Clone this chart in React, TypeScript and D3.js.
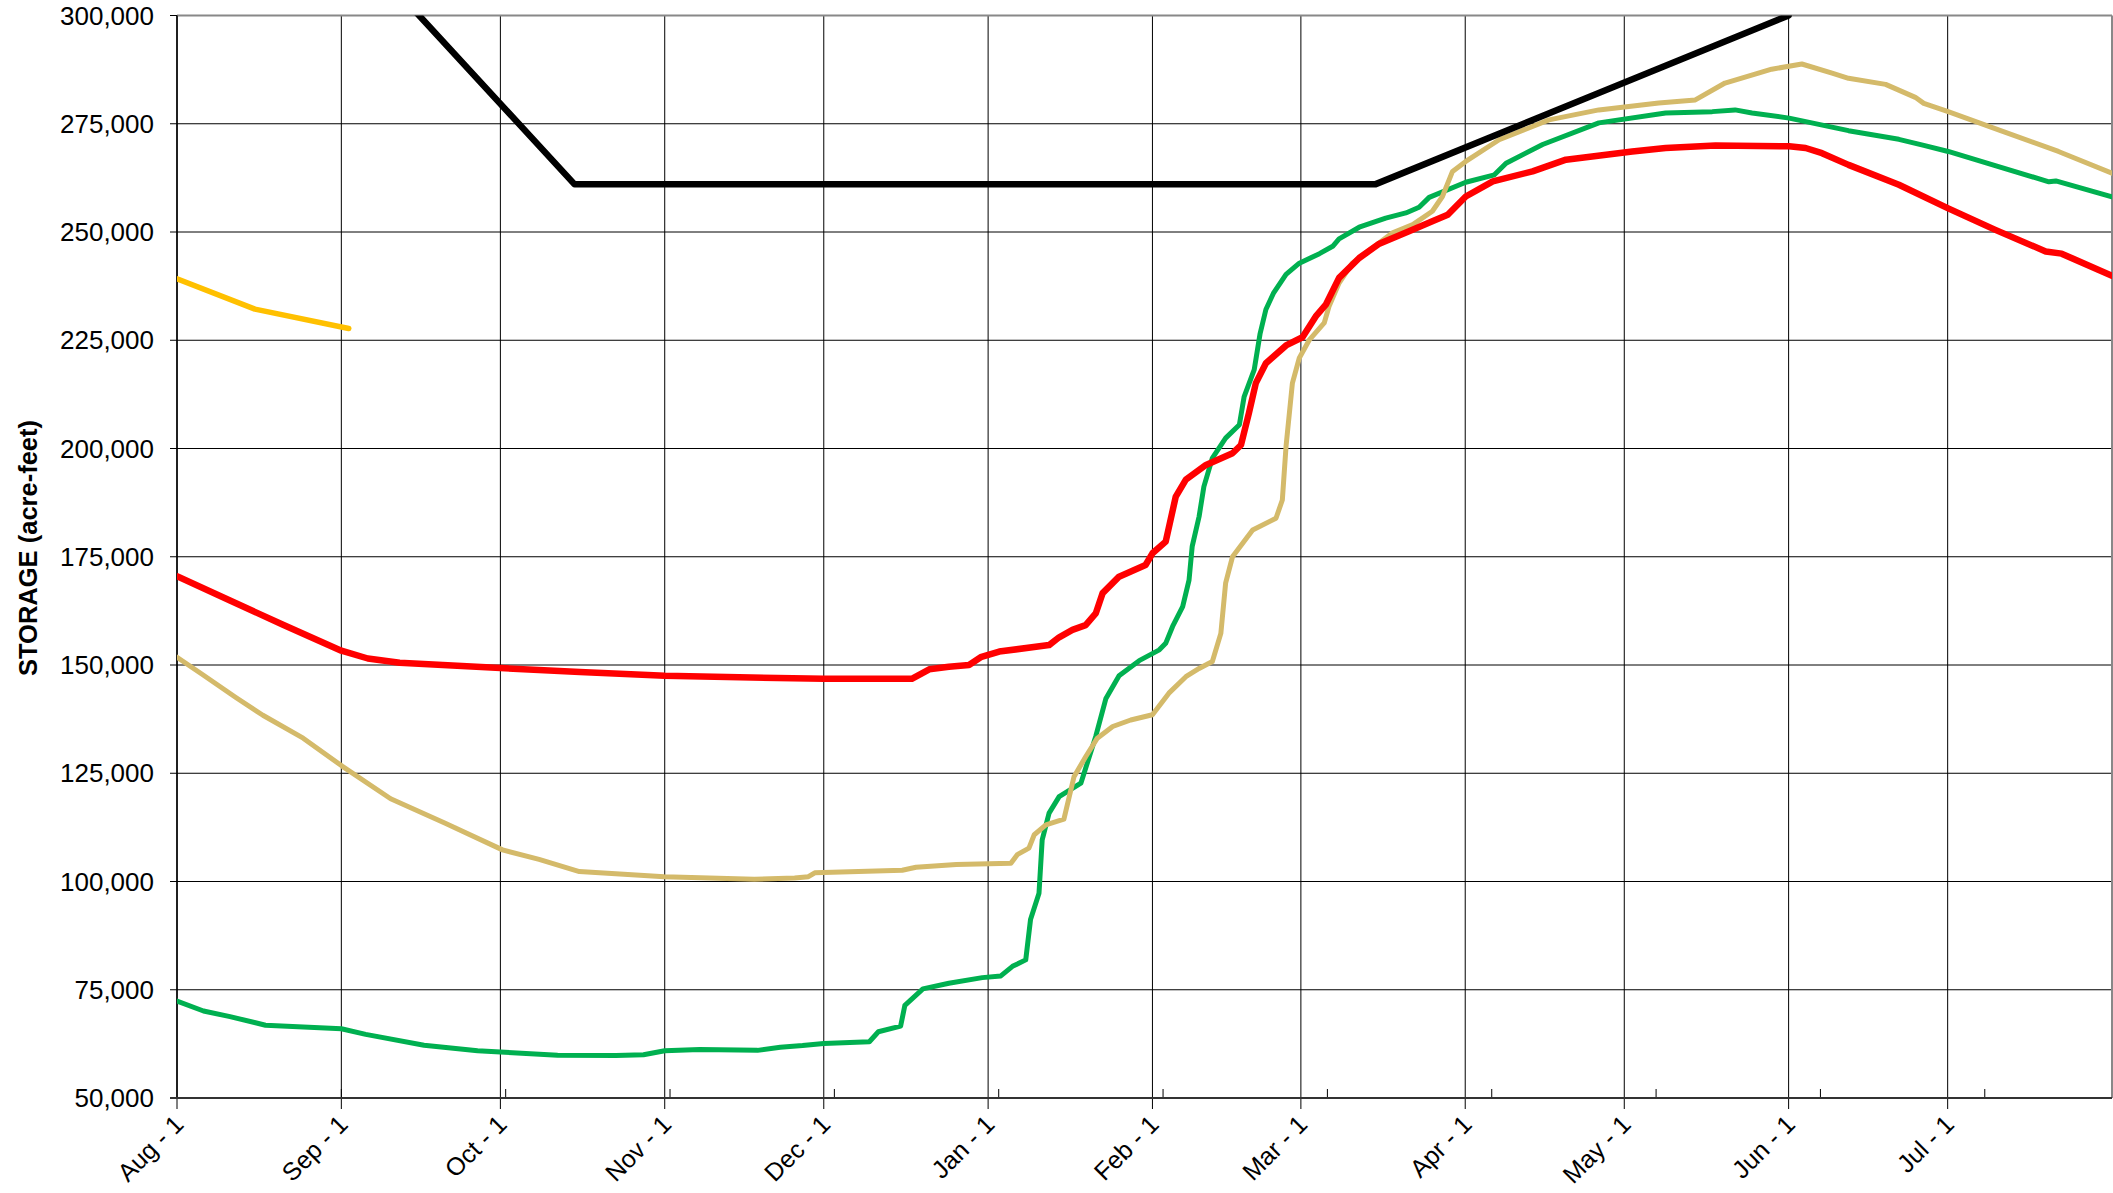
import * as d3 from "d3";

// day offsets from Aug 1, values in acre-feet
const monthLabels = [
  "Aug - 1", "Sep - 1", "Oct - 1", "Nov - 1", "Dec - 1", "Jan - 1",
  "Feb - 1", "Mar - 1", "Apr - 1", "May - 1", "Jun - 1", "Jul - 1",
];
const monthDays = [0, 31, 61, 92, 122, 153, 184, 212, 243, 273, 304, 334];

const ruleDays = [31, 75, 226, 304];
const ruleStorage = [319500, 261000, 261000, 300000];

const currentDays = [0, 14.7, 32.4];
const currentStorage = [239200, 232200, 227700];

const redDays = [
  0, 10, 20, 31, 36, 42, 61, 76, 92, 122, 138.6, 141.9, 145.6, 149.4, 151.6, 155.1,
  164.5, 166.4, 168.9, 171.4, 173.3, 174.6, 177.7, 182.7, 184, 186.5, 188.4,
  190.3, 194.1, 199.1, 200.7, 202.2, 203.5, 205.4, 209.2, 212.3, 214.8, 216.7,
  219.2, 223, 226.8, 232.4, 236.8, 239.7, 243.1, 248.2, 255.7, 262, 274.5,
  280.8, 290.2, 304.1, 307.2, 310.3, 315.3, 324.8, 334, 343, 352.5, 355.5, 365,
];
const redStorage = [
  170500, 164900, 159300, 153300, 151500, 150500, 149300, 148400, 147500, 146800, 146800,
  149000, 149600, 150000, 151800, 153100, 154600, 156400, 158100, 159200,
  161900, 166600, 170400, 173100, 175800, 178500, 188900, 192800, 196200,
  198900, 200800, 208200, 215100, 219700, 223800, 225700, 230500, 233200,
  239400, 244000, 247300, 250200, 252500, 254000, 258200, 261700, 264000,
  266700, 268600, 269400, 270000, 269800, 269400, 268200, 265500, 260900,
  255500, 250500, 245500, 245000, 239900,
];

const greenDays = [
  0, 5, 10, 16.7, 31, 35.6, 46.6, 56.7, 61, 71.8, 82.8, 88, 92, 98.6, 109.5,
  113.8, 118, 122, 130.6, 132.3, 136.5, 137.3, 140.7, 145.6, 151.9, 155.4,
  157.6, 160.1, 161, 162.6, 163.2, 164.5, 166.4, 170.5, 173.3, 175.2, 177.7,
  181.5, 185.3, 186.5, 187.8, 189.7, 190.9, 191.5, 192.8, 193.7, 195.3, 197.8,
  200.4, 201.3, 203.2, 204.3, 205.4, 206.8, 209.2, 211.7, 215.5, 218, 219.2,
  223, 228, 231.8, 234.3, 236.2, 243.1, 248.5, 250.7, 257.6, 268.2, 280.8,
  289.6, 293.9, 297.1, 304.1, 315.3, 324.8, 329.5, 334.1, 353.1, 354.4, 365,
];
const greenStorage = [
  72400, 70100, 68800, 66800, 66000, 64700, 62200, 60900, 60600, 59900, 59800,
  60000, 60900, 61200, 61000, 61700, 62100, 62600, 63000, 65300, 66600, 71400,
  75200, 76500, 77800, 78200, 80400, 81900, 91200, 97300, 109600, 115800,
  119600, 122700, 133500, 142200, 147500, 151000, 153500, 155000, 158900,
  163500, 169600, 177400, 184300, 191200, 197800, 202400, 205500, 212000,
  218200, 226500, 232100, 235800, 240200, 242800, 245000, 246700, 248400,
  251100, 253200, 254400, 255700, 258000, 261500, 263200, 265900, 270200,
  275200, 277500, 277800, 278200, 277500, 276300, 273400, 271400, 270000,
  268600, 261600, 261800, 258100,
];

const tanDays = [
  0, 4.8, 11.1, 16.2, 23.8, 31.2, 40.3, 50.5, 61.4, 68.3, 75.9, 91.9, 108.9,
  116.5, 119.1, 120.3, 136.8, 139.4, 147, 157.3, 158.5, 160.7, 161.7, 163.9,
  167.3, 169.2, 171.4, 173.6, 176.5, 179.9, 184, 187.1, 190.3, 192.8, 195.3,
  196.9, 197.8, 199.1, 202.9, 207.3, 208.5, 209.2, 210.4, 211.7, 213.6, 216.4,
  217.3, 219.2, 221.7, 224.3, 229.3, 233.1, 236.8, 238.7, 240.6, 243.1, 249.4,
  258.8, 268.2, 279.5, 286.4, 292, 298.3, 300.8, 306.5, 312.2, 315.3, 322.3,
  327.9, 329.5, 334.1, 343.6, 354.9, 365,
];
const tanStorage = [
  151800, 147800, 142500, 138400, 133100, 126600, 119100, 113500, 107300,
  105100, 102300, 101100, 100500, 100800, 101100, 102000, 102600, 103300,
  103900, 104200, 106200, 107700, 110800, 113100, 114400, 124200, 128800,
  133100, 135800, 137300, 138500, 143500, 147300, 149200, 150800, 157300,
  168900, 175000, 181200, 183900, 188100, 200500, 215100, 220900, 225100,
  229000, 232800, 238200, 242800, 245200, 249800, 251700, 254800, 258200,
  264000, 266300, 271300, 275900, 278200, 279800, 280500, 284400, 286700,
  287600, 288800, 286700, 285500, 284100, 281100, 279700, 277800, 273600,
  268600, 263600,
];

const yTicks = [50000, 75000, 100000, 125000, 150000, 175000, 200000, 225000, 250000, 275000, 300000];

const W = 2113;
const H = 1193;
const left = 177;
const right = 2112;
const top = 15.5;
const bottom = 1098;
const font = "'Liberation Sans', Arial, sans-serif";

export default function App() {
  const x = d3.scaleLinear().domain([0, 365]).range([left, right]);
  const y = d3.scaleLinear().domain([50000, 300000]).range([bottom, top]);
  const line = d3
    .line<[number, number]>()
    .x((d) => x(d[0]))
    .y((d) => y(d[1]));
  const path = (days: number[], vals: number[]) =>
    line(days.map((d, i) => [d, vals[i]] as [number, number])) || "";
  const fmt = d3.format(",");
  const minorTicks = d3.range(31, 365, 31);

  const series = [
    { days: greenDays, vals: greenStorage, color: "#00B050", width: 5 },
    { days: tanDays, vals: tanStorage, color: "#D4BA6A", width: 5 },
    { days: redDays, vals: redStorage, color: "#FF0000", width: 6.5 },
    { days: ruleDays, vals: ruleStorage, color: "#000000", width: 6.5 },
    { days: currentDays, vals: currentStorage, color: "#FFC000", width: 5.5 },
  ];

  return (
    <svg
      width={W}
      height={H}
      viewBox={`0 0 ${W} ${H}`}
      style={{ position: "absolute", left: 0, top: 0, background: "#fff" }}
    >
      <defs>
        <clipPath id="plot">
          <rect x={left} y={top} width={right - left} height={bottom - top} />
        </clipPath>
      </defs>
      <rect width={W} height={H} fill="#fff" />

      {/* horizontal grid + y ticks */}
      {yTicks.map((t) => (
        <g key={t}>
          <line x1={left} x2={right} y1={y(t)} y2={y(t)} stroke="#000" strokeWidth={1} />
          <line x1={left - 7} x2={left} y1={y(t)} y2={y(t)} stroke="#000" strokeWidth={1} />
          <text
            x={154}
            y={y(t)}
            dy="0.35em"
            textAnchor="end"
            fontFamily={font}
            fontSize={26}
            fill="#000"
          >
            {fmt(t)}
          </text>
        </g>
      ))}

      {/* vertical month grid */}
      {monthDays.map((d, i) => (
        <g key={d}>
          <line x1={x(d)} x2={x(d)} y1={top} y2={bottom + 11} stroke="#000" strokeWidth={1} />
          <text
            transform={`translate(${x(d) + 8},${1126}) rotate(-45)`}
            textAnchor="end"
            fontFamily={font}
            fontSize={25}
            fill="#000"
          >
            {monthLabels[i]}
          </text>
        </g>
      ))}
      {minorTicks.map((d) => (
        <line key={d} x1={x(d)} x2={x(d)} y1={bottom - 9} y2={bottom} stroke="#000" strokeWidth={1} />
      ))}

      {/* frame */}
      <line x1={left} x2={right} y1={top} y2={top} stroke="#888" strokeWidth={2} />
      <line x1={right} x2={right} y1={top} y2={bottom} stroke="#888" strokeWidth={2} />
      <line x1={left} x2={left} y1={top} y2={bottom} stroke="#000" strokeWidth={1.5} />
      <line x1={left - 7} x2={right} y1={bottom} y2={bottom} stroke="#333" strokeWidth={2} />

      <g clipPath="url(#plot)">
        {series.map((s, i) => (
          <path
            key={i}
            d={path(s.days, s.vals)}
            fill="none"
            stroke={s.color}
            strokeWidth={s.width}
            strokeLinejoin="round"
            strokeLinecap="round"
          />
        ))}
      </g>

      <text
        transform="translate(37,548) rotate(-90)"
        textAnchor="middle"
        fontFamily={font}
        fontSize={25.5}
        fontWeight="bold"
        fill="#000"
      >
        STORAGE (acre-feet)
      </text>
    </svg>
  );
}
